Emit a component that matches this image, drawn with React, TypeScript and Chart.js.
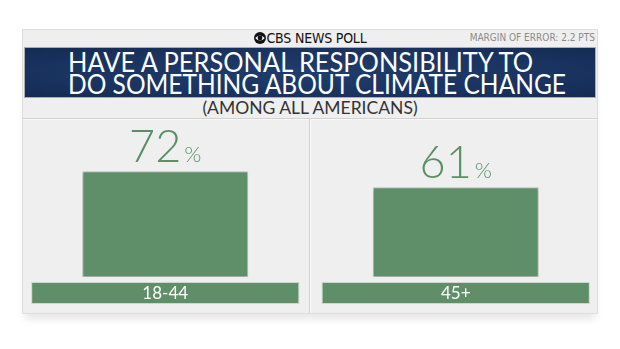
import React, { useEffect, useRef } from "react";
import { Chart, registerables } from "chart.js";

Chart.register(...registerables);

const categories = ["18-44", "45+"];
const values = [72, 61];
const valueSuffix = "%";
const titleLines = ["HAVE A PERSONAL RESPONSIBILITY TO", "DO SOMETHING ABOUT CLIMATE CHANGE"];
const titleWidths = [465, 498];
const subtitle = "(AMONG ALL AMERICANS)";
const brand = "CBS NEWS POLL";
const marginNote = "MARGIN OF ERROR: 2.2 PTS";

const GREEN = "#5e8f68";
const LABEL_GREEN = "#5a9066";

const labelPlugin = {
  id: "valueAndCategoryLabels",
  beforeDatasetsDraw(chart: any) {
    const ctx = chart.ctx;
    ctx.save();
    ctx.shadowColor = "rgba(0,0,0,0.22)";
    ctx.shadowBlur = 4;
    ctx.shadowOffsetY = 2;
  },
  afterDatasetsDraw(chart: any) {
    const ctx = chart.ctx;
    ctx.restore();
    const meta = chart.getDatasetMeta(0);
    const xs = chart.scales.x;
    const area = chart.chartArea;
    const catW = (xs.right - xs.left) / categories.length;
    meta.data.forEach((bar: any, i: number) => {
      const { x, y } = bar.getProps(["x", "y"], true);
      ctx.save();
      ctx.fillStyle = LABEL_GREEN;
      ctx.textBaseline = "alphabetic";
      ctx.textAlign = "left";
      const big = "300 45px Lato, 'Open Sans', sans-serif";
      const small = "300 22px Lato, 'Open Sans', sans-serif";
      const num = String(values[i]);
      ctx.font = big;
      const w1 = ctx.measureText(num).width;
      ctx.font = small;
      const w2 = ctx.measureText(valueSuffix).width;
      const gap = 3;
      const start = x - (w1 + gap + w2) / 2;
      ctx.font = big;
      ctx.fillText(num, start, y - 9);
      ctx.font = small;
      ctx.fillText(valueSuffix, start + w1 + gap, y - 9);

      // category band
      const bw = catW * 0.916;
      const top = area.bottom + 6;
      const h = 20;
      ctx.fillStyle = "#cfd6cf";
      ctx.fillRect(x - bw / 2 - 1, top - 1, bw + 2, h + 2);
      ctx.fillStyle = GREEN;
      ctx.fillRect(x - bw / 2, top, bw, h);
      ctx.fillStyle = "#ffffff";
      ctx.font = "400 17px Lato, 'Open Sans', sans-serif";
      ctx.textAlign = "center";
      ctx.textBaseline = "middle";
      ctx.fillText(categories[i], x, top + h / 2 + 1);
      ctx.restore();
    });
  },
};

function CbsEye() {
  return (
    <svg width="12" height="12" viewBox="0 0 12 12" style={{ display: "inline-block", verticalAlign: "-1px", marginRight: 1 }}>
      <circle cx="6" cy="6" r="6" fill="#111" />
      <path d="M1.2 6 Q6 0.8 10.8 6 Q6 11.2 1.2 6 Z" fill="#fff" />
      <circle cx="6" cy="6" r="2.4" fill="#111" />
    </svg>
  );
}

export default function App() {
  const canvasRef = useRef<HTMLCanvasElement | null>(null);
  const lineRefs = useRef<(HTMLSpanElement | null)[]>([]);

  useEffect(() => {
    lineRefs.current.forEach((el, i) => {
      if (!el) return;
      el.style.transform = "none";
      const w = el.getBoundingClientRect().width;
      if (w > 0) el.style.transform = `scaleX(${titleWidths[i] / w})`;
    });
  }, []);

  useEffect(() => {
    const canvas = canvasRef.current;
    if (!canvas) return;
    const chart = new Chart(canvas, {
      type: "bar",
      data: {
        labels: categories,
        datasets: [
          {
            data: values,
            backgroundColor: GREEN,
            borderColor: "#c3cbc3",
            borderWidth: 1,
            borderSkipped: false,
            barPercentage: 0.571,
            categoryPercentage: 1,
          },
        ],
      },
      options: {
        responsive: false,
        animation: false,
        layout: { padding: { top: 130, bottom: 72, left: 20, right: 19 } },
        plugins: {
          legend: { display: false },
          tooltip: { enabled: false },
          title: { display: false },
        },
        scales: {
          x: { display: false },
          y: { display: false, min: 0, max: 100 },
        },
      },
      plugins: [labelPlugin],
    });
    return () => chart.destroy();
  }, []);

  const condensed = "'Liberation Sans Narrow', 'DejaVu Sans Condensed', 'Roboto', sans-serif";

  return (
    <div style={{ position: "absolute", left: 0, top: 0, width: 620, height: 349, background: "#ffffff", overflow: "hidden" }}>
      <div
        style={{
          position: "absolute",
          left: 22,
          top: 29,
          width: 576,
          height: 285,
          boxSizing: "border-box",
          background: "#efefef",
          border: "1px solid #dedede",
          boxShadow: "0 8px 8px -3px rgba(0,0,0,0.10)",
        }}
      />
      {/* header */}
      <div
        style={{
          position: "absolute",
          left: 22,
          top: 30,
          width: 576,
          height: 17,
          textAlign: "center",
          font: `400 14px/17px ${condensed}`,
          color: "#111",
          letterSpacing: "-0.2px",
        }}
      >
        <CbsEye />
        {brand}
      </div>
      <div
        style={{
          position: "absolute",
          right: 25,
          top: 32,
          height: 12,
          font: `400 10px/12px ${condensed}`,
          color: "#8a8a8a",
        }}
      >
        {marginNote}
      </div>
      {/* banner */}
      <div
        style={{
          position: "absolute",
          left: 24,
          top: 47,
          width: 572,
          height: 51,
          boxSizing: "border-box",
          border: "1px solid #a9adb3",
          background: "radial-gradient(ellipse at center, #1f3c6b 0%, #1a3461 60%, #142a52 100%)",
        }}
      />
      <div
        style={{
          position: "absolute",
          left: 68,
          top: 48,
          width: 540,
          color: "#ffffff",
          font: "400 27px/22px Lato, 'Open Sans', sans-serif",
          whiteSpace: "pre",
        }}
      >
        {titleLines.map((t, i) => (
          <div key={i} style={{ height: 22, paddingTop: i === 0 ? 3 : 0 }}>
            <span
              ref={(el) => {
                lineRefs.current[i] = el;
              }}
              style={{ display: "inline-block", transformOrigin: "0 0" }}
            >
              {t}
            </span>
          </div>
        ))}
      </div>
      {/* subtitle */}
      <div
        style={{
          position: "absolute",
          left: 22,
          top: 98,
          width: 576,
          height: 20,
          textAlign: "center",
          font: "400 17.5px/20px Lato, 'Open Sans', sans-serif",
          color: "#333",
        }}
      >
        {subtitle}
      </div>
      <div style={{ position: "absolute", left: 23, top: 118, width: 574, height: 1, background: "#d2d2d2" }} />
      <div style={{ position: "absolute", left: 23, top: 119, width: 574, height: 1, background: "#f8f8f8" }} />
      <div style={{ position: "absolute", left: 309, top: 119, width: 1, height: 194, background: "#d0d0d0" }} />
      <div style={{ position: "absolute", left: 310, top: 119, width: 1, height: 194, background: "#f8f8f8" }} />
      <canvas ref={canvasRef} width={620} height={349} style={{ position: "absolute", left: 0, top: 0, width: 620, height: 349 }} />
    </div>
  );
}
